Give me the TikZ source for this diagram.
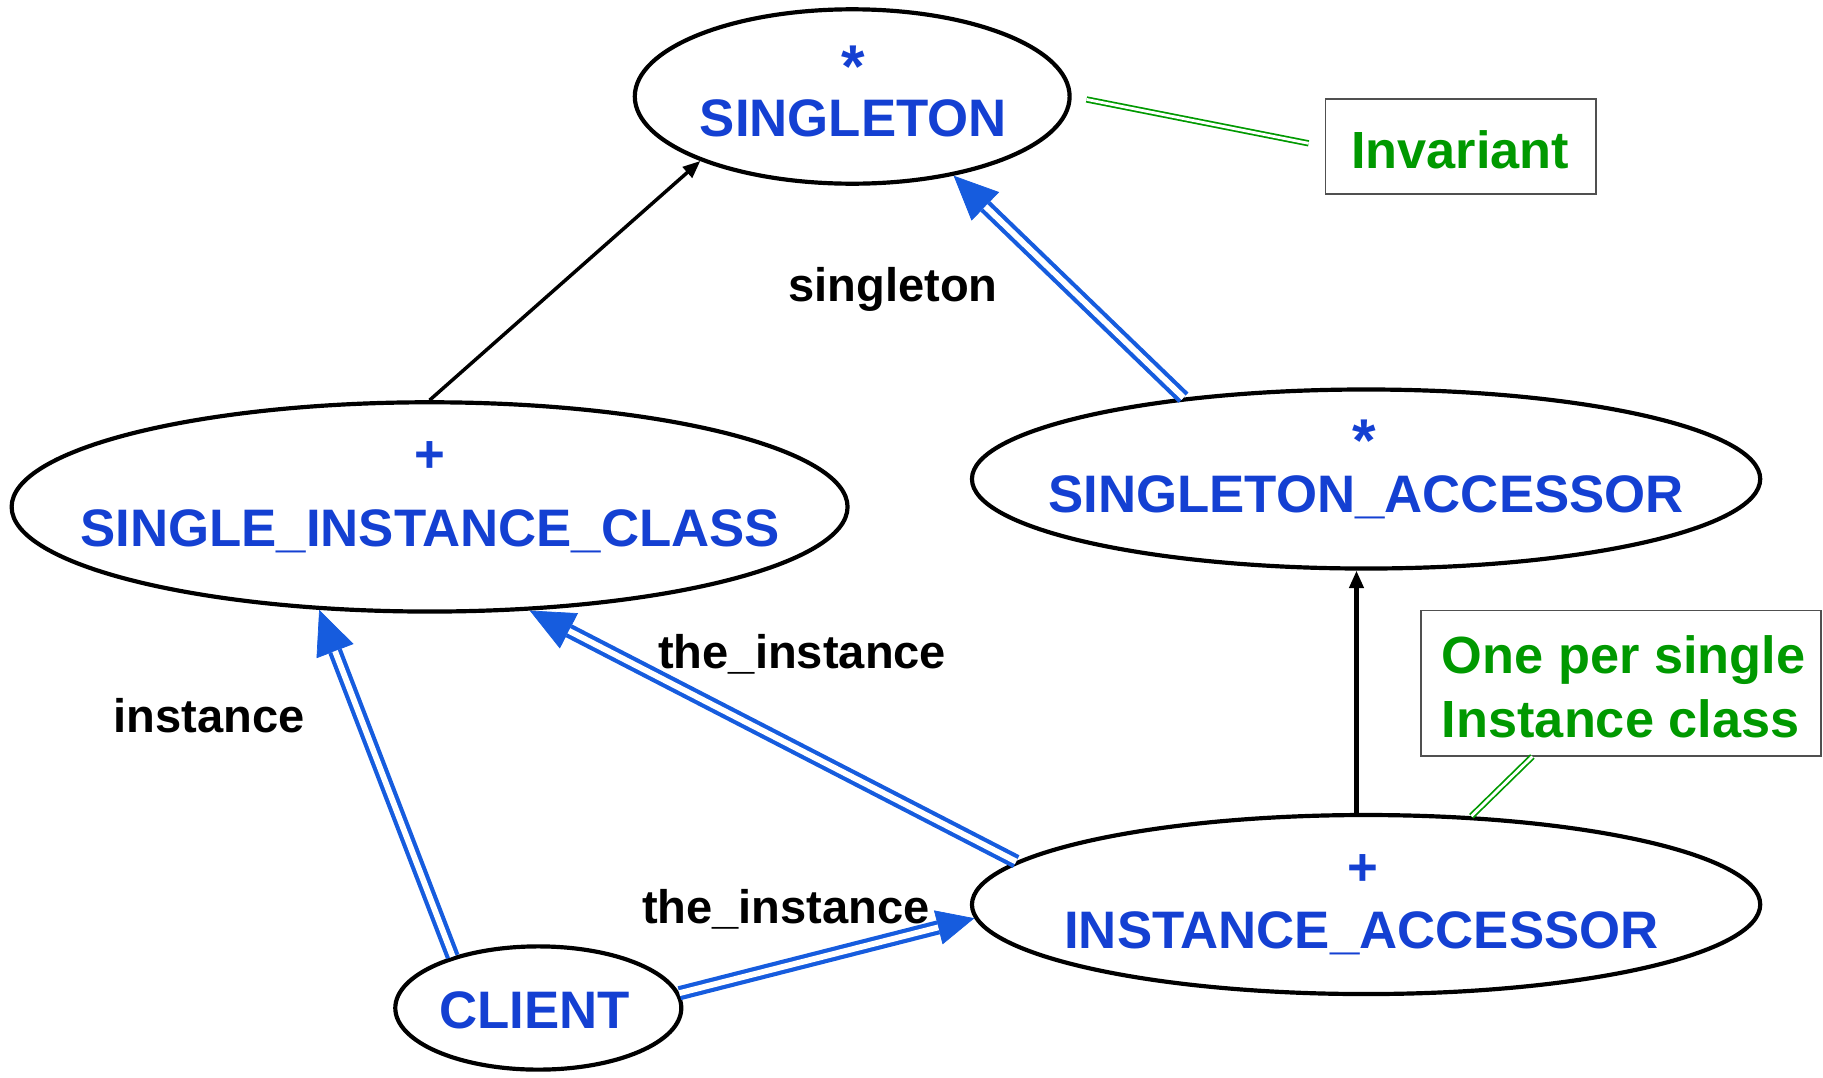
\documentclass[tikz,border=0pt]{standalone}
\usepackage{fontspec}
\setmainfont{Liberation Sans}
\usetikzlibrary{shapes.geometric,arrows.meta,calc}
\definecolor{tblue}{RGB}{20,64,210}
\definecolor{ablue}{RGB}{22,92,222}
\definecolor{ngreen}{RGB}{0,153,0}
\definecolor{boxgray}{RGB}{80,80,80}
\tikzset{
 ell/.style={ellipse, draw=black, line width=3.6pt, inner sep=0pt},
 nm/.style={text=tblue, font=\bfseries\fontsize{45.4}{54}\selectfont, inner sep=0pt, anchor=base},
 sym/.style={text=tblue, font=\bfseries\fontsize{52}{60}\selectfont, inner sep=0pt, anchor=base},
 lbl/.style={text=black, font=\bfseries\fontsize{40.5}{48}\selectfont, inner sep=0pt, anchor=base},
 notebox/.style={draw=boxgray, line width=1.4pt, inner sep=0pt},
 ntext/.style={text=ngreen, font=\bfseries\fontsize{45}{54}\selectfont, inner sep=0pt},
 blueline/.style={draw=ablue, double=white, line width=3.6pt, double distance=5pt},
 bluetip/.style={draw=ablue, fill=ablue, line width=0.6pt, -{Triangle[length=38pt,width=34pt]}},
 greenline/.style={draw=ngreen, double=white, line width=1.5pt, double distance=2.4pt},
 blackarrow/.style={draw=black, -{Triangle[length=15pt,width=12pt]}},
}
\begin{document}
\begin{tikzpicture}[x=1pt,y=-1pt]
\useasboundingbox (0,0) rectangle (1568,927);
% ellipses
\node[ell, minimum width=374pt, minimum height=150pt] (s) at (733,83) {};
\node[ell, minimum width=678pt, minimum height=154pt] (sa) at (1175,412) {};
\node[ell, minimum width=719pt, minimum height=180pt] (sic) at (369.5,436) {};
\node[ell, minimum width=678pt, minimum height=154pt] (ia) at (1175,778) {};
\node[ell, minimum width=246pt, minimum height=106pt] (cl) at (463,867) {};
% ellipse texts
\node[sym] (s1) at (734,75) {*};
\node[nm] (s2) at (734,117) {SINGLETON};
\node[sym] (sa1) at (1173,397) {*};
\node[nm] (sa2) at (1175,441) {SINGLETON\_ACCESSOR};
\node[nm] (sic1) at (370,406) {+};
\node[nm] (sic2) at (370,470) {SINGLE\_INSTANCE\_CLASS};
\node[nm] (ia1) at (1172,762) {+};
\node[nm] (ia2) at (1171,816) {INSTANCE\_ACCESSOR};
\node[nm] (cl1) at (460,885) {CLIENT};
% notes
\node[notebox, minimum width=233pt, minimum height=82pt] (inv) at (1256.5,126) {};
\node[ntext, anchor=base] (invt) at (1256,145) {Invariant};
\node[notebox, minimum width=344pt, minimum height=125pt] (note) at (1394,587.5) {};
\node[ntext, anchor=base west] (nt1) at (1240,579) {One per single};
\node[ntext, anchor=base west] (nt2) at (1240,634) {Instance class};
% labels
\node[lbl] (l1) at (768,259) {singleton};
\node[lbl] (l2) at (690,575) {the\_instance};
\node[lbl] (l3) at (180,630) {instance};
\node[lbl] (l4) at (676,794) {the\_instance};
% black arrows
\draw[blackarrow, line width=3pt] (sic.90) -- (s.203.5);
\draw[blackarrow, line width=3.6pt] (ia.96) -- (sa.-96);
% blue double arrows
\draw[bluetip] (sa.156) -- (s.-38);
\draw[blueline, shorten >=38pt] (sa.156) -- (s.-38);
\draw[bluetip] (ia.173) -- (sic.-46);
\draw[blueline, shorten >=38pt] (ia.173) -- (sic.-46);
\draw[bluetip] (cl.149) -- (sic.-137.7);
\draw[blueline, shorten >=38pt] (cl.149) -- (sic.-137.7);
\draw[bluetip, -{Triangle[length=32pt,width=30pt]}] (cl.6) -- (ia.182);
\draw[blueline, shorten >=32pt] (cl.6) -- (ia.182);
% green note links
\draw[greenline, shorten <=13pt, shorten >=14pt] (s.east) -- (inv.west);
\draw[greenline] ($(note.south west)!0.28!(note.south east)$) -- (ia.40);
\end{tikzpicture}
\end{document}
